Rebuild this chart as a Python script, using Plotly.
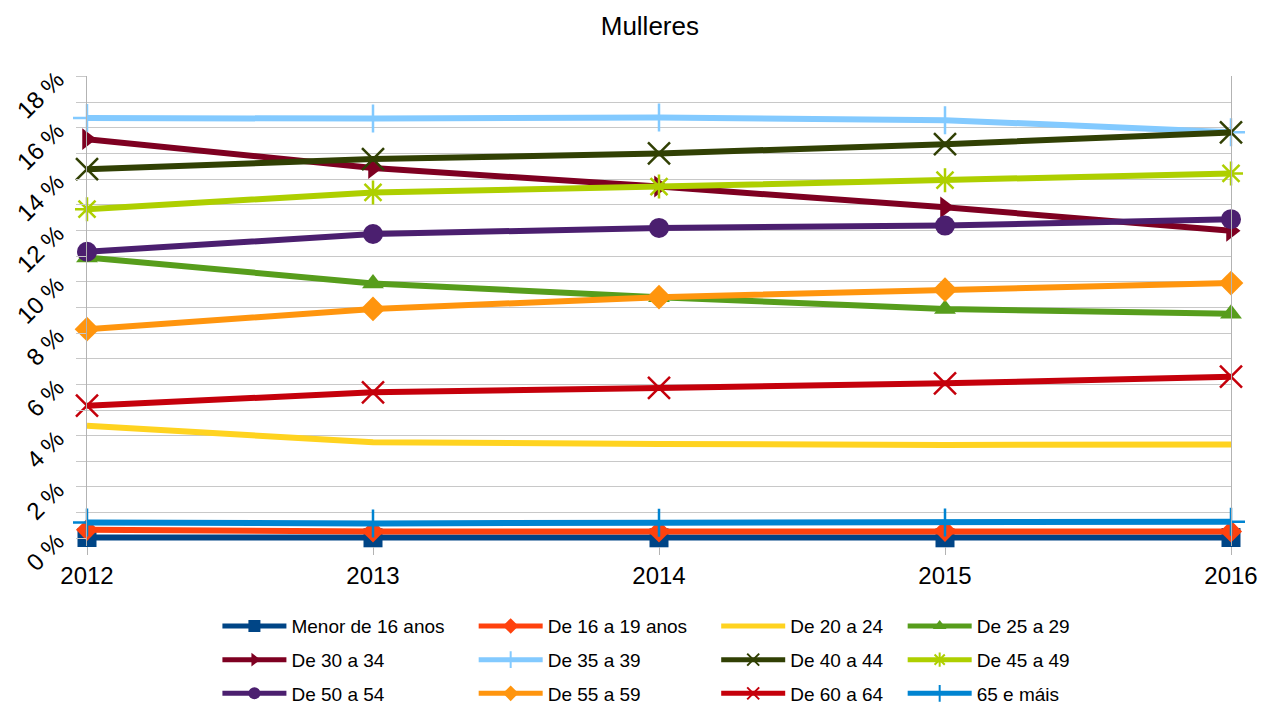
import plotly.graph_objects as go

# Data (percent of women by age group)
years = [2012, 2013, 2014, 2015, 2016]
groups = ["Menor de 16 anos", "De 16 a 19 anos", "De 20 a 24", "De 25 a 29",
          "De 30 a 34", "De 35 a 39", "De 40 a 44", "De 45 a 49",
          "De 50 a 54", "De 55 a 59", "De 60 a 64", "65 e máis"]
menor_16 = [0.03, 0.02, 0.02, 0.02, 0.03]
de_16_19 = [0.33, 0.27, 0.27, 0.29, 0.27]
de_20_24 = [4.39, 3.74, 3.68, 3.64, 3.66]
de_25_29 = [10.95, 9.93, 9.40, 8.94, 8.75]
de_30_34 = [15.56, 14.43, 13.71, 12.90, 11.99]
de_35_39 = [16.38, 16.36, 16.40, 16.30, 15.83]
de_40_44 = [14.39, 14.78, 15.00, 15.36, 15.82]
de_45_49 = [12.83, 13.48, 13.71, 13.96, 14.22]
de_50_54 = [11.17, 11.86, 12.10, 12.19, 12.44]
de_55_59 = [8.15, 8.94, 9.40, 9.69, 9.95]
de_60_64 = [5.17, 5.69, 5.86, 6.04, 6.30]
mais_65 = [0.62, 0.58, 0.61, 0.62, 0.65]
series = [menor_16, de_16_19, de_20_24, de_25_29, de_30_34, de_35_39,
          de_40_44, de_45_49, de_50_54, de_55_59, de_60_64, mais_65]
y_ticks = [0, 2, 4, 6, 8, 10, 12, 14, 16, 18]
y_tick_labels = [f"{v} %" for v in y_ticks]

# LibreOffice default palette and symbols
colors = ["#004586", "#ff420e", "#ffd320", "#579d1c", "#7e0021", "#83caff",
          "#314004", "#aecf00", "#4b1f6f", "#ff950e", "#c5000b", "#0084d1"]
symbols = ["square", "diamond", None, "triangle-up", "triangle-right", "cross-thin",
           "x-thin", "asterisk", "circle", "diamond", "x-thin", "cross-thin"]
sizes = [19, 17, 0, 19, 19, 20, 22, 20, 20, 19, 22, 20]
legends = ["legend", "legend2", "legend3", "legend4"]

fig = go.Figure()
for i, (name, vals) in enumerate(zip(groups, series)):
    sym = symbols[i]
    mode = "lines" if sym is None else "lines+markers"
    thin = sym is not None and ("thin" in sym or sym == "asterisk")
    marker = dict(color=colors[i], size=sizes[i], symbol=sym or "circle",
                  line=dict(color=colors[i], width=2.5 if thin else 0))
    fig.add_trace(go.Scatter(
        x=years, y=vals, name=name, mode=mode,
        line=dict(color=colors[i], width=6),
        marker=marker, cliponaxis=False,
        legend=legends[i % 4], legendgroup=name,
    ))

leg_common = dict(orientation="v", yanchor="top", y=-0.130, font=dict(size=19, color="#000000"),
                  itemwidth=64, itemsizing="constant", tracegroupgap=6, traceorder="grouped",
                  bgcolor="rgba(0,0,0,0)")
col_x = [0.114, 0.338, 0.550, 0.713]

fig.update_layout(
    width=1263, height=706,
    font=dict(family="Liberation Sans, Arial, sans-serif", color="#000000"),
    title=dict(text="Mulleres", x=0.492, xref="paper", y=0.963, yanchor="middle",
               font=dict(size=26, color="#000000")),
    plot_bgcolor="white", paper_bgcolor="white",
    margin=dict(l=87, r=32, t=76, b=160, autoexpand=False),
    legend=dict(x=col_x[0], **leg_common),
    legend2=dict(x=col_x[1], **leg_common),
    legend3=dict(x=col_x[2], **leg_common),
    legend4=dict(x=col_x[3], **leg_common),
)
fig.update_xaxes(
    range=[2012, 2016], tickvals=years, ticktext=[str(y) for y in years],
    showgrid=False, zeroline=False, showline=False, automargin=False,
    ticks="outside", ticklen=8, tickcolor="#b3b3b3", ticklabelstandoff=0,
    tickfont=dict(size=24),
)
fig.update_yaxes(
    range=[-0.3, 18.02], tickvals=y_ticks, ticktext=y_tick_labels, tickangle=-45,
    showgrid=True, gridcolor="#c8c8c8", gridwidth=1, zeroline=False, automargin=False,
    showline=True, mirror=True, linecolor="#b3b3b3",
    ticks="outside", ticklen=10, tickcolor="#c8c8c8", ticklabelstandoff=14,
    minor=dict(dtick=1, tick0=0, showgrid=True, gridcolor="#c8c8c8", ticks="outside",
               ticklen=10, tickcolor="#c8c8c8"),
    tickfont=dict(size=24),
)

fig.write_html("out.html", config={"displayModeBar": False},
               post_script="document.body.style.margin='0';")
